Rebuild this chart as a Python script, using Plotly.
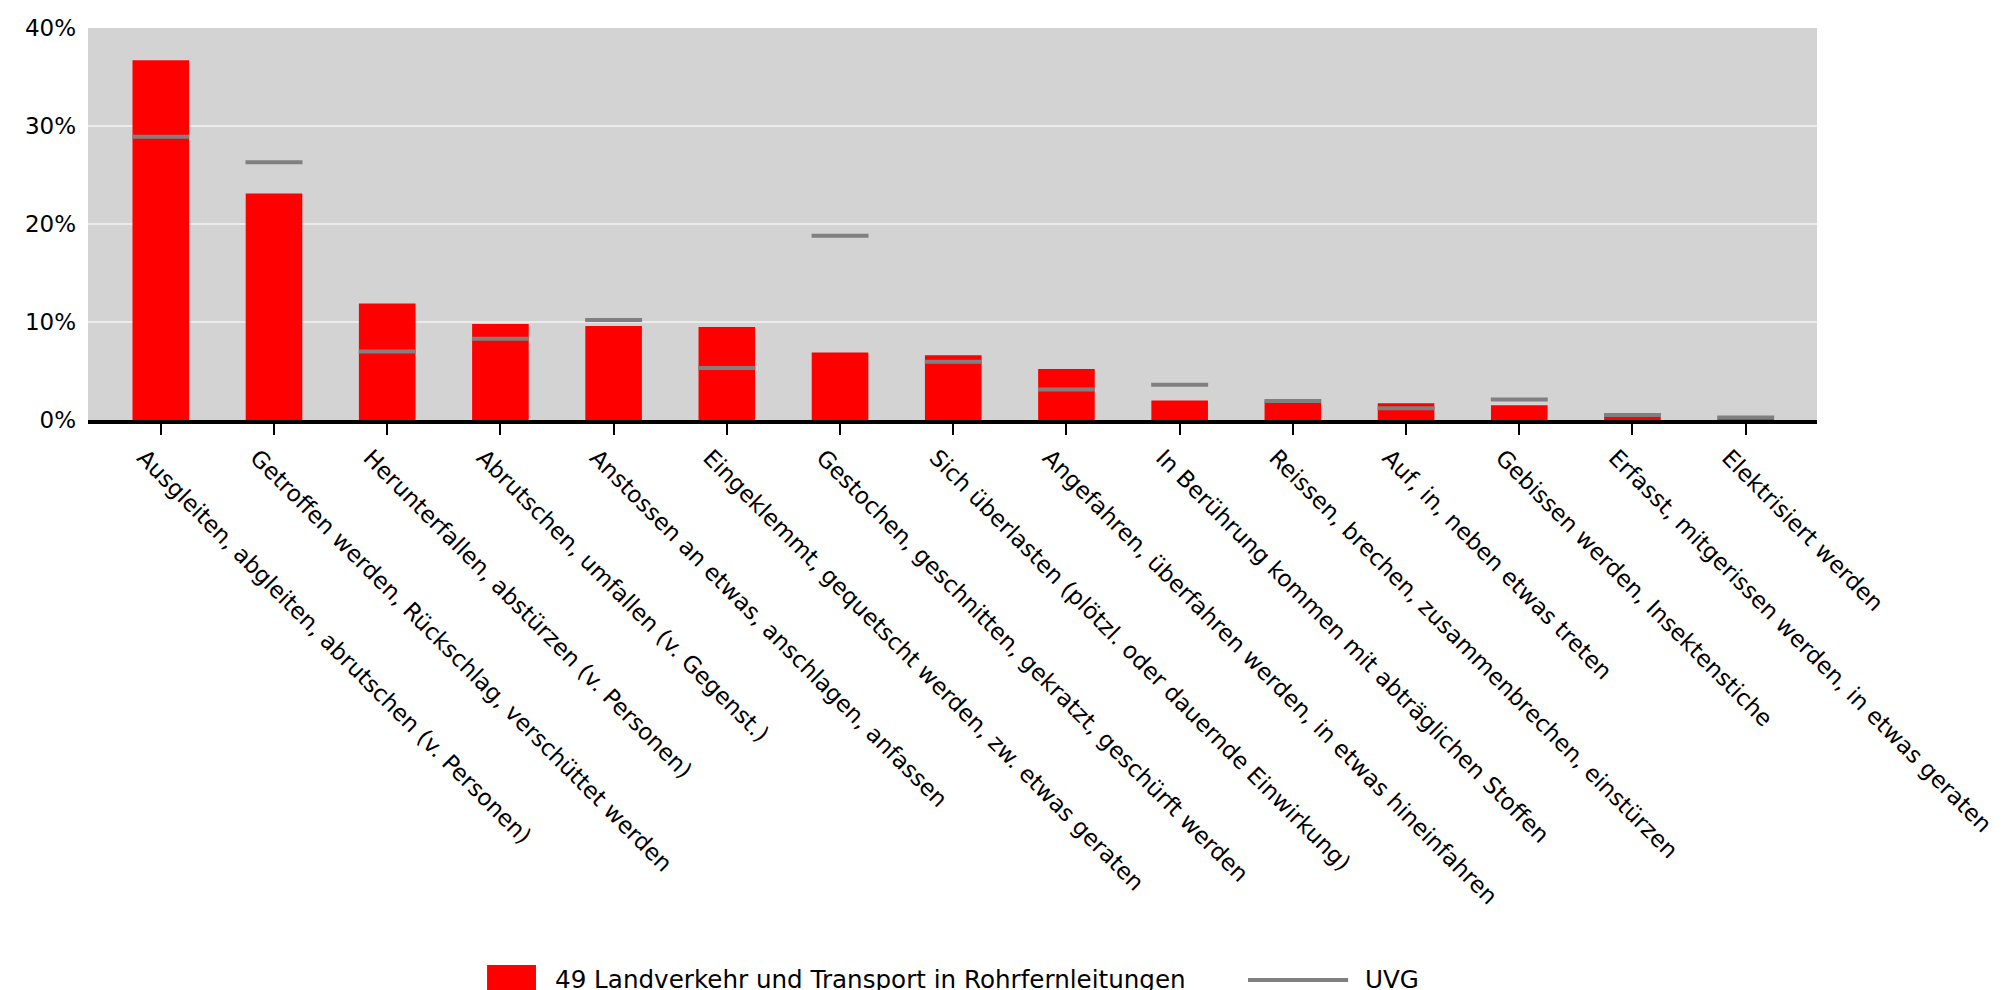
import plotly.graph_objects as go

categories = [
    "Ausgleiten, abgleiten, abrutschen (v. Personen)",
    "Getroffen werden, Rückschlag, verschüttet werden",
    "Herunterfallen, abstürzen (v. Personen)",
    "Abrutschen, umfallen (v. Gegenst.)",
    "Anstossen an etwas, anschlagen, anfassen",
    "Eingeklemmt, gequetscht werden, zw. etwas geraten",
    "Gestochen, geschnitten, gekratzt, geschürft werden",
    "Sich überlasten (plötzl. oder dauernde Einwirkung)",
    "Angefahren, überfahren werden, in etwas hineinfahren",
    "In Berührung kommen mit abträglichen Stoffen",
    "Reissen, brechen, zusammenbrechen, einstürzen",
    "Auf, in, neben etwas treten",
    "Gebissen werden, Insektenstiche",
    "Erfasst, mitgerissen werden, in etwas geraten",
    "Elektrisiert werden",
]
branch_values = [36.7, 23.1, 11.9, 9.8, 9.6, 9.5, 6.9, 6.6, 5.2, 2.0, 1.85, 1.7, 1.5, 0.3, 0.05]
uvg_values = [28.9, 26.3, 7.0, 8.3, 10.2, 5.3, 18.8, 5.95, 3.1, 3.6, 1.95, 1.2, 2.1, 0.5, 0.25]
y_ticks = [0, 10, 20, 30, 40]
y_tick_labels = ["0%", "10%", "20%", "30%", "40%"]
branch_name = "49 Landverkehr und Transport in Rohrfernleitungen"
uvg_name = "UVG"

FONT = "DejaVu Sans"
RED = "#ff0000"
GREY = "#808080"

fig = go.Figure()
fig.add_trace(go.Bar(
    x=categories, y=branch_values, name=branch_name,
    marker=dict(color=RED, line=dict(width=0)),
    width=0.5, showlegend=False,
))
fig.add_trace(go.Scatter(
    x=categories, y=uvg_values, name=uvg_name, mode="markers",
    marker=dict(symbol="line-ew", size=40.7, line=dict(width=4, color=GREY), color=GREY),
    showlegend=False,
))

# manual legend (paper coordinates)
fig.add_shape(type="rect", xref="paper", yref="paper",
              x0=0.2308, x1=0.2591, y0=-1.4643, y1=-1.3903,
              fillcolor=RED, line=dict(width=0))
fig.add_annotation(xref="paper", yref="paper", x=0.2689, y=-1.427,
                   text=branch_name, showarrow=False, xanchor="left", yanchor="middle",
                   font=dict(family=FONT, size=24.6, color="black"))
fig.add_shape(type="line", xref="paper", yref="paper",
              x0=0.6709, x1=0.7288, y0=-1.4286, y1=-1.4286,
              line=dict(color=GREY, width=4))
fig.add_annotation(xref="paper", yref="paper", x=0.7374, y=-1.427,
                   text=uvg_name, showarrow=False, xanchor="left", yanchor="middle",
                   font=dict(family=FONT, size=24.6, color="black"))

fig.update_layout(
    width=2003, height=990,
    margin=dict(l=80, r=194, t=20, b=578, autoexpand=False),
    paper_bgcolor="white", plot_bgcolor="#d3d3d3",
    font=dict(family=FONT, size=23, color="black"),
    showlegend=False,
)
fig.update_xaxes(
    type="category", range=[-0.643, 14.63],
    tickangle=45, ticks="outside", ticklen=11, tickwidth=2, tickcolor="black",
    showline=True, linecolor="black", linewidth=4,
    showgrid=False, ticklabelshift=-17,
    tickfont=dict(family=FONT, size=23, color="black"),
)
fig.update_yaxes(
    range=[0, 40], tickvals=y_ticks, ticktext=y_tick_labels,
    showgrid=True, gridcolor="#ebebeb", gridwidth=2,
    zeroline=False, showline=False, ticks="", ticklabelstandoff=11,
    tickfont=dict(family=FONT, size=23, color="black"),
)

fig.write_html("out.html")
